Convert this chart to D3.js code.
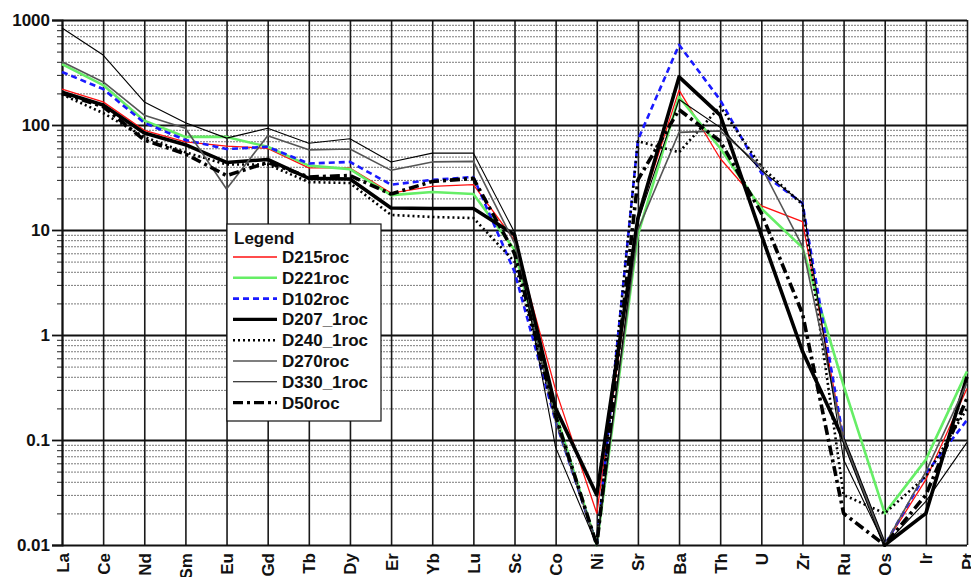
<!DOCTYPE html>
<html>
<head>
<meta charset="utf-8">
<script src="https://cdn.jsdelivr.net/npm/d3@7/dist/d3.min.js"></script>
<style>
  html, body { margin: 0; padding: 0; background: #fff; }
  svg { display: block; }
  text { font-family: "Liberation Sans", Arial, sans-serif; font-weight: bold; }
</style>
</head>
<body>
<svg id="chart" width="971" height="577"></svg>
<script>
// Element order along the x axis
const elements = ["La","Ce","Nd","Sm","Eu","Gd","Tb","Dy","Er","Yb","Lu","Sc","Co","Ni","Sr","Ba","Th","U","Zr","Ru","Os","Ir","Pt"];

// Normalised concentrations, one array per sample (same order as elements)
const D215roc   = [220,166,89,69,63,60,39,39,22.5,26,27,8,0.3,0.02,13,215,48,17,12,0.1,0.01,0.042,0.31];
const D221roc   = [380,240,110,77,77,62,41,38,21.5,23,22,6.5,0.18,0.01,9,185,60,16,6.8,0.33,0.02,0.065,0.45];
const D102roc   = [320,220,105,72,59,62,43,44.5,27,30,32,4,0.15,0.01,72,580,173,35,18,0.1,0.01,0.048,0.155];
const D207_1roc = [205,155,84,65,44,47,31,30.6,16.2,16,16,9,0.2,0.03,13,287,124,9,0.7,0.1,0.01,0.02,0.4];
const D240_1roc = [195,130,77,55,42,42,28.6,28,13.9,13.3,13,5,0.16,0.01,70,55,150,40,17.5,0.03,0.02,0.045,0.2];
const D270roc   = [400,257,124,93,24.6,79,58,59,37,44.5,45,7.5,0.15,0.01,10,85,88,40,7,0.1,0.01,0.05,0.35];
const D330_1roc = [840,464,166,105,75,93,67,74,44.5,54,54,9.5,0.085,0.01,12,175,95,37,18,0.065,0.01,0.026,0.095];
const D50roc    = [200,150,72,53,33,44,32,33,22,29,31,6,0.17,0.01,30,140,70,14.5,1.6,0.02,0.01,0.03,0.25];

const seriesNames = ["D215roc","D221roc","D102roc","D207_1roc","D240_1roc","D270roc","D330_1roc","D50roc"];
const seriesValues = [D215roc, D221roc, D102roc, D207_1roc, D240_1roc, D270roc, D330_1roc, D50roc];

// Axis tick values
const majorTicks = [0.01, 0.1, 1, 10, 100, 1000];
const majorLabels = ["0.01", "0.1", "1", "10", "100", "1000"];

// Line styles for each sample
const styles = {
  "D215roc":   { color: "#ff1010", width: 1.3, dash: null },
  "D221roc":   { color: "#66ee66", width: 2.6, dash: null },
  "D102roc":   { color: "#1a1aff", width: 2.6, dash: "6,4" },
  "D207_1roc": { color: "#000000", width: 3.6, dash: null },
  "D240_1roc": { color: "#000000", width: 2.6, dash: "2,3" },
  "D270roc":   { color: "#555555", width: 1.6, dash: null },
  "D330_1roc": { color: "#000000", width: 1.1, dash: null },
  "D50roc":    { color: "#000000", width: 3.6, dash: "10,4,3,4" }
};

const svg = d3.select("#chart");
const plotLeft = 62, plotRight = 967, plotTop = 20, plotBottom = 545;

const x = d3.scalePoint().domain(elements).range([plotLeft, plotRight]).padding(0);
const y = d3.scaleLog().domain([0.01, 1000]).range([plotBottom, plotTop]);

// minor values 2..9 in each decade
const minorTicks = [];
for (let d = 0; d < majorTicks.length - 1; d++) {
  for (let m = 2; m <= 9; m++) minorTicks.push(majorTicks[d] * m);
}

// Minor horizontal gridlines (dotted grey)
svg.append("g")
  .attr("transform", `translate(${plotLeft},0)`)
  .call(d3.axisLeft(y).tickValues(minorTicks).tickSize(-(plotRight - plotLeft)).tickFormat(""))
  .call(g => g.select(".domain").remove())
  .call(g => g.selectAll("line")
    .attr("stroke", "#5a5a5a").attr("stroke-width", 1).attr("stroke-dasharray", "2,1").attr("opacity", 0.8));

// Minor tick marks on the left axis
svg.append("g")
  .attr("transform", `translate(${plotLeft},0)`)
  .call(d3.axisLeft(y).tickValues(minorTicks).tickSize(5).tickFormat(""))
  .call(g => g.select(".domain").remove())
  .call(g => g.selectAll("line").attr("stroke", "#222").attr("stroke-width", 1));

// Vertical gridlines at each element
svg.append("g")
  .attr("transform", `translate(0,${plotBottom})`)
  .call(d3.axisBottom(x).tickSize(-(plotBottom - plotTop)).tickFormat(""))
  .call(g => g.select(".domain").remove())
  .call(g => g.selectAll("line").attr("stroke", "#1a1a1a").attr("stroke-width", 1.6));

// Major horizontal gridlines
svg.append("g")
  .attr("transform", `translate(${plotLeft},0)`)
  .call(d3.axisLeft(y).tickValues(majorTicks).tickSize(-(plotRight - plotLeft)).tickFormat(""))
  .call(g => g.select(".domain").remove())
  .call(g => g.selectAll("line").attr("stroke", "#111").attr("stroke-width", 1.8));

// Left axis with decade labels
svg.append("g")
  .attr("transform", `translate(${plotLeft},0)`)
  .call(d3.axisLeft(y).tickValues(majorTicks).tickSize(10).tickPadding(2)
    .tickFormat((d, i) => majorLabels[i]))
  .call(g => g.select(".domain").attr("stroke", "#111").attr("stroke-width", 2))
  .call(g => g.selectAll("line").attr("stroke", "#111").attr("stroke-width", 1.8))
  .call(g => g.selectAll("text")
    .attr("fill", "#111").style("font-size", "17px").style("font-weight", "bold")
    .attr("textLength", null));

// Rotated element labels
svg.append("g")
  .attr("transform", `translate(0,${plotBottom})`)
  .call(d3.axisBottom(x).tickSize(0).tickPadding(0))
  .call(g => g.select(".domain").remove())
  .call(g => g.selectAll("text")
    .attr("fill", "#111")
    .style("font-size", "17px")
    .attr("text-anchor", "end")
    .attr("dy", null)
    .attr("y", null)
    .attr("transform", "translate(6,8) rotate(-90)"));

// Sample lines
const line = d3.line()
  .x((d, i) => x(elements[i]))
  .y(d => y(d));

seriesNames.forEach((name, k) => {
  const s = styles[name];
  svg.append("path")
    .datum(seriesValues[k])
    .attr("fill", "none")
    .attr("stroke", s.color)
    .attr("stroke-width", s.width)
    .attr("stroke-dasharray", s.dash)
    .attr("stroke-linejoin", "round")
    .attr("d", line);
});

// Legend
const lg = svg.append("g").attr("transform", "translate(227,224)");
lg.append("rect")
  .attr("width", 154).attr("height", 197)
  .attr("fill", "#fff").attr("stroke", "#111").attr("stroke-width", 1.2);
lg.append("text")
  .attr("x", 7).attr("y", 20)
  .style("font-size", "17px").attr("fill", "#111")
  .text("Legend");
seriesNames.forEach((name, k) => {
  const s = styles[name];
  const yy = 33 + k * 20.8;
  lg.append("line")
    .attr("x1", 6).attr("x2", 50).attr("y1", yy).attr("y2", yy)
    .attr("stroke", s.color)
    .attr("stroke-width", Math.min(s.width, 3.2))
    .attr("stroke-dasharray", s.dash);
  lg.append("text")
    .attr("x", 55).attr("y", yy + 6)
    .style("font-size", "17px").attr("fill", "#111")
    .text(name);
});
</script>
</body>
</html>
